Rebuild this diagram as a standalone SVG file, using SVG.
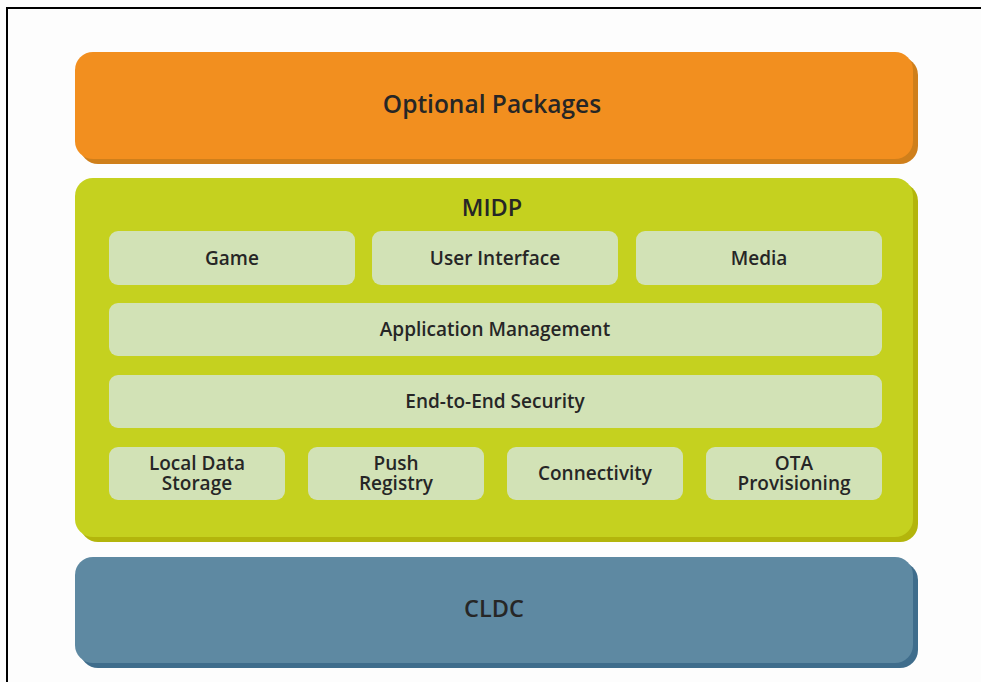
<svg xmlns="http://www.w3.org/2000/svg" width="981" height="682" viewBox="0 0 981 682">
  <style>
    .lbl { font-family: "Open Sans", "DejaVu Sans", sans-serif; font-weight: 600; fill: #262626; text-anchor: middle; }
    .big { font-size: 24.5px; }
    .mid { font-size: 23.5px; }
    .sm { font-size: 19px; }
    .cell { fill: #d2e2b6; }
  </style>
  <rect x="0" y="0" width="981" height="682" fill="#fdfdfd"/>
  <!-- outer frame, open on the right and bottom -->
  <path d="M7 682 V8 H981" fill="none" stroke="#000" stroke-width="2"/>

  <g id="optional-packages">
    <rect x="80" y="57" width="838" height="107" rx="18" fill="#cf7f1b"/>
    <rect x="75" y="52" width="838" height="107" rx="18" fill="#f28f1f"/>
    <text class="lbl big" x="492" y="113">Optional Packages</text>
  </g>

  <g id="midp">
    <rect x="80" y="183" width="838" height="359" rx="18" fill="#b3b50c"/>
    <rect x="75" y="178" width="838" height="359" rx="18" fill="#c5d11f"/>
    <text class="lbl mid" x="492" y="216">MIDP</text>
  </g>

  <g id="game">
    <rect class="cell" x="109" y="231" width="246" height="54" rx="9"/>
    <text class="lbl sm" x="232" y="265">Game</text>
  </g>
  <g id="user-interface">
    <rect class="cell" x="372" y="231" width="246" height="54" rx="9"/>
    <text class="lbl sm" x="495" y="265">User Interface</text>
  </g>
  <g id="media">
    <rect class="cell" x="636" y="231" width="246" height="54" rx="9"/>
    <text class="lbl sm" x="759" y="265">Media</text>
  </g>
  <g id="application-management">
    <rect class="cell" x="109" y="303" width="773" height="53" rx="9"/>
    <text class="lbl sm" x="495" y="336">Application Management</text>
  </g>
  <g id="end-to-end-security">
    <rect class="cell" x="109" y="375" width="773" height="53" rx="9"/>
    <text class="lbl sm" x="495" y="408">End-to-End Security</text>
  </g>
  <g id="local-data-storage">
    <rect class="cell" x="109" y="447" width="176" height="53" rx="9"/>
    <text class="lbl sm" x="197" y="470">Local Data<tspan x="197" dy="20">Storage</tspan></text>
  </g>
  <g id="push-registry">
    <rect class="cell" x="308" y="447" width="176" height="53" rx="9"/>
    <text class="lbl sm" x="396" y="470">Push<tspan x="396" dy="20">Registry</tspan></text>
  </g>
  <g id="connectivity">
    <rect class="cell" x="507" y="447" width="176" height="53" rx="9"/>
    <text class="lbl sm" x="595" y="480">Connectivity</text>
  </g>
  <g id="ota-provisioning">
    <rect class="cell" x="706" y="447" width="176" height="53" rx="9"/>
    <text class="lbl sm" x="794" y="470">OTA<tspan x="794" dy="20">Provisioning</tspan></text>
  </g>

  <g id="cldc">
    <rect x="80" y="562" width="838" height="106" rx="18" fill="#3f6d8c"/>
    <rect x="75" y="557" width="838" height="106" rx="18" fill="#5e89a2"/>
    <text class="lbl mid" x="494" y="617">CLDC</text>
  </g>

  <g id="connectors"/>
</svg>
